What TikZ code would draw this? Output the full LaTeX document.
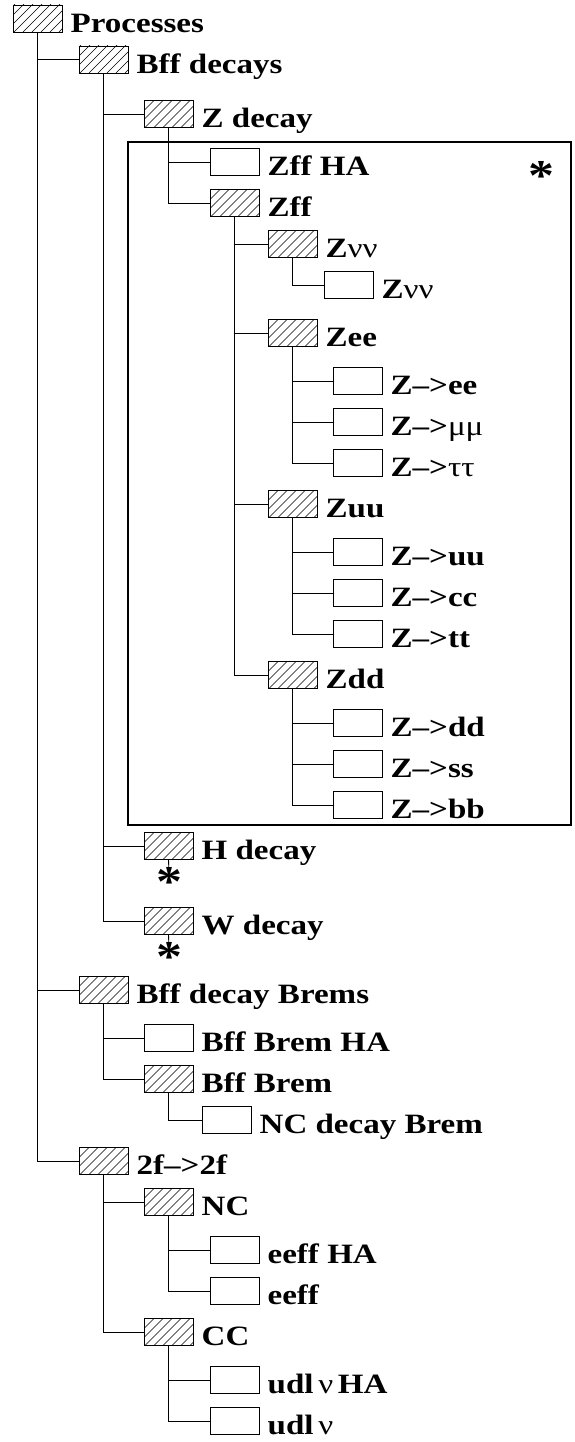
\documentclass[tikz,border=0pt]{standalone}
\usepackage{fontspec}
\setmainfont{Liberation Serif}[FakeStretch=1.18]
\tikzset{
  box/.style={draw, line width=0.9pt, minimum width=49pt, minimum height=27pt, inner sep=0pt, fill=white},
  hbox/.style={box, path picture={
    \foreach \i in {-26,-17,...,46} {\draw[line width=0.6pt] ([xshift=\i pt]path picture bounding box.south west) -- ++(30,-30);}}},
  txt/.style={anchor=base west, inner sep=0pt, font=\bfseries\fontsize{28}{28}\selectfont},
  conn/.style={line width=0.9pt},
  frame/.style={line width=2pt},
  astx/.style={anchor=base, inner sep=0pt, font=\bfseries\fontsize{44}{44}\selectfont}
}
\newcommand\treeitem[5]{%
  \node[#2] (#1) at (#3+24.5,#4) {};
  \node[txt] (#1t) at ([xshift=8pt]#1.south east) {#5};}
\newcommand\gk[1]{{\mdseries #1}}
\begin{document}
\begin{tikzpicture}[x=1pt,y=-1pt]
\useasboundingbox (0,0) rectangle (575,1442);
\draw[frame] (128,142) rectangle (571,825);
\treeitem{proc}{hbox}{13}{18.5}{Processes}
\treeitem{bffd}{hbox}{79}{59.5}{Bff decays}
\treeitem{zdec}{hbox}{144}{114}{Z decay}
\treeitem{zffha}{box}{210}{162}{Zff HA}
\treeitem{zff}{hbox}{210}{203}{Zff}
\treeitem{znn}{hbox}{268}{244}{Z\gk{νν}}
\treeitem{znnl}{box}{324}{285}{Z\gk{νν}}
\treeitem{zee}{hbox}{268}{333}{Zee}
\treeitem{zee1}{box}{333}{381}{Z–>ee}
\treeitem{zmm}{box}{333}{422}{Z–>\gk{μμ}}
\treeitem{ztau}{box}{333}{463}{Z–>\gk{ττ}}
\treeitem{zuu}{hbox}{268}{504}{Zuu}
\treeitem{zuu1}{box}{333}{552}{Z–>uu}
\treeitem{zcc}{box}{333}{593}{Z–>cc}
\treeitem{ztop}{box}{333}{634}{Z–>tt}
\treeitem{zdd}{hbox}{268}{675}{Zdd}
\treeitem{zdd1}{box}{333}{723}{Z–>dd}
\treeitem{zss}{box}{333}{764}{Z–>ss}
\treeitem{zbb}{box}{333}{805}{Z–>bb}
\treeitem{hdec}{hbox}{144}{846}{H decay}
\treeitem{wdec}{hbox}{144}{921}{W decay}
\treeitem{bffb}{hbox}{79}{990}{Bff decay Brems}
\treeitem{bffbha}{box}{144}{1038}{Bff Brem HA}
\treeitem{bffbr}{hbox}{144}{1079}{Bff Brem}
\treeitem{ncdb}{box}{202}{1120}{NC decay Brem}
\treeitem{twof}{hbox}{79}{1161}{2f–>2f}
\treeitem{nc}{hbox}{144}{1202}{NC}
\treeitem{eeffha}{box}{210}{1250}{eeff HA}
\treeitem{eeff}{box}{210}{1291}{eeff}
\treeitem{cc}{hbox}{144}{1332}{CC}
\treeitem{udlha}{box}{210}{1380}{udl\,\gk{ν}\,HA}
\treeitem{udl}{box}{210}{1421}{udl\,\gk{ν}}
% stars
\node[astx] (fstar) at (541,191) {*};
\node[astx] (hstar) at (169,896) {*};
\node[astx] (wstar) at (169,971) {*};
\coordinate (hsend) at (169,872);
\coordinate (wsend) at (169,947);
% connectors
\draw[conn] (proc.south) |- (bffd.west);
\draw[conn] (proc.south) |- (bffb.west);
\draw[conn] (proc.south) |- (twof.west);
\draw[conn] (bffd.south) |- (zdec.west);
\draw[conn] (bffd.south) |- (hdec.west);
\draw[conn] (bffd.south) |- (wdec.west);
\draw[conn] (zdec.south) |- (zffha.west);
\draw[conn] (zdec.south) |- (zff.west);
\draw[conn] (zff.south) |- (znn.west);
\draw[conn] (zff.south) |- (zee.west);
\draw[conn] (zff.south) |- (zuu.west);
\draw[conn] (zff.south) |- (zdd.west);
\draw[conn] (znn.south) |- (znnl.west);
\draw[conn] (zee.south) |- (zee1.west);
\draw[conn] (zee.south) |- (zmm.west);
\draw[conn] (zee.south) |- (ztau.west);
\draw[conn] (zuu.south) |- (zuu1.west);
\draw[conn] (zuu.south) |- (zcc.west);
\draw[conn] (zuu.south) |- (ztop.west);
\draw[conn] (zdd.south) |- (zdd1.west);
\draw[conn] (zdd.south) |- (zss.west);
\draw[conn] (zdd.south) |- (zbb.west);
\draw[conn] (hdec.south) -- (hsend);
\draw[conn] (wdec.south) -- (wsend);
\draw[conn] (bffb.south) |- (bffbha.west);
\draw[conn] (bffb.south) |- (bffbr.west);
\draw[conn] (bffbr.south) |- (ncdb.west);
\draw[conn] (twof.south) |- (nc.west);
\draw[conn] (twof.south) |- (cc.west);
\draw[conn] (nc.south) |- (eeffha.west);
\draw[conn] (nc.south) |- (eeff.west);
\draw[conn] (cc.south) |- (udlha.west);
\draw[conn] (cc.south) |- (udl.west);
\end{tikzpicture}
\end{document}
